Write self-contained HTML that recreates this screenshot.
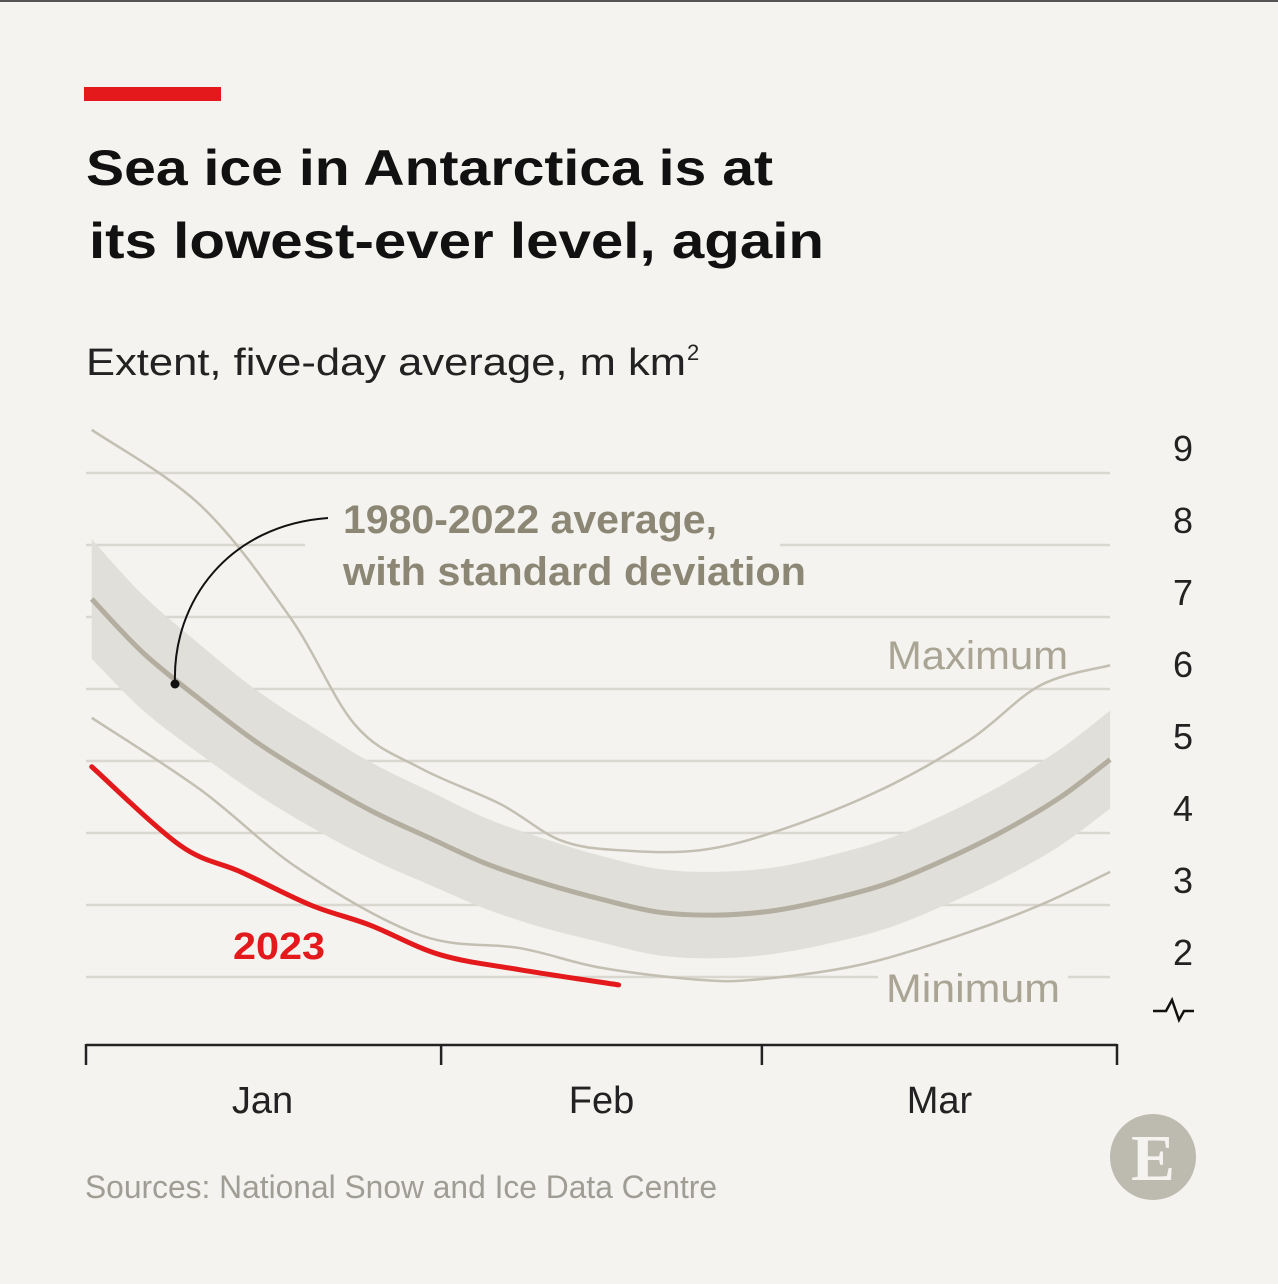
<!DOCTYPE html>
<html><head><meta charset="utf-8"><style>
html,body{margin:0;padding:0;background:#f4f3ef;}
svg{display:block;}
</style></head><body>
<svg width="1278" height="1284" viewBox="0 0 1278 1284" xmlns="http://www.w3.org/2000/svg">
<rect x="0" y="0" width="1278" height="1284" fill="#f4f3ef"/>
<rect x="0" y="0" width="1278" height="2" fill="#555"/>
<rect x="84" y="87" width="137" height="14" fill="#e3191c"/>
<text x="86" y="185" font-family="Liberation Sans, sans-serif" font-weight="bold" font-size="50" fill="#111" textLength="687" lengthAdjust="spacingAndGlyphs">Sea ice in Antarctica is at</text>
<text x="89" y="258" font-family="Liberation Sans, sans-serif" font-weight="bold" font-size="50" fill="#111" textLength="735" lengthAdjust="spacingAndGlyphs">its lowest-ever level, again</text>
<text x="86" y="375" font-family="Liberation Sans, sans-serif" font-size="38" fill="#222" textLength="600" lengthAdjust="spacingAndGlyphs">Extent, five-day average, m km</text>
<text x="687" y="360" font-family="Liberation Sans, sans-serif" font-size="22" fill="#222">2</text>
<g id="plot"></g>
<text x="85" y="1198" font-family="Liberation Sans, sans-serif" font-size="32" fill="#a09d95" textLength="632" lengthAdjust="spacingAndGlyphs">Sources: National Snow and Ice Data Centre</text>
<circle cx="1153" cy="1157" r="43" fill="#bdbbb0"/>
<text x="1153" y="1180" text-anchor="middle" font-family="Liberation Serif, serif" font-weight="bold" font-size="66" fill="#f4f3ef">E</text>
</svg>
<script>
const yTicks=[2,3,4,5,6,7,8,9];
const monthLabels=["Jan","Feb","Mar"];
const monthStarts=[0,31,59,90];
const avgDays=[0.5,5,10,15,20,25,30,35,40,45,50,55,60,65,70,75,80,85,89.4];
const avgVals=[7.25,6.5,5.85,5.25,4.75,4.3,3.93,3.57,3.3,3.08,2.9,2.86,2.92,3.08,3.3,3.63,4.02,4.49,5.02];
const sdVals=[0.83,0.8,0.76,0.72,0.7,0.67,0.65,0.63,0.62,0.6,0.6,0.6,0.6,0.61,0.62,0.63,0.65,0.67,0.68];
const maxDays=[0.5,10,17.8,23.5,29.2,36.2,41.4,46.6,53.6,60.6,69.4,77.2,83.3,89.4];
const maxVals=[9.6,8.55,7.0,5.5,4.9,4.4,3.9,3.76,3.76,4.04,4.6,5.3,6.05,6.33];
const minDays=[0.5,10,18.7,29.2,37.9,44.9,53.6,58.9,67.6,76.3,83.3,89.4];
const minVals=[5.6,4.6,3.49,2.58,2.4,2.13,1.96,1.97,2.17,2.58,3.0,3.46];
const y23Days=[0.5,8.2,13.5,19.6,24.8,30.9,37.9,46.5];
const y23Vals=[4.92,3.83,3.46,3.0,2.72,2.31,2.1,1.89];

const NS="http://www.w3.org/2000/svg";
const g=document.getElementById('plot');
const X=d=>86+d*(1031/90);
const Y=v=>977-(v-2)*72;
function mk(tag,attrs){const e=document.createElementNS(NS,tag);for(const k in attrs)e.setAttribute(k,attrs[k]);g.appendChild(e);return e;}
function spline(pts){let s=`M${pts[0][0]},${pts[0][1]}`;for(let i=0;i<pts.length-1;i++){const p0=pts[Math.max(0,i-1)],p1=pts[i],p2=pts[i+1],p3=pts[Math.min(pts.length-1,i+2)];const c1=[p1[0]+(p2[0]-p0[0])/6,p1[1]+(p2[1]-p0[1])/6],c2=[p2[0]-(p3[0]-p1[0])/6,p2[1]-(p3[1]-p1[1])/6];s+=`C${c1[0]},${c1[1]} ${c2[0]},${c2[1]} ${p2[0]},${p2[1]}`;}return s;}
function pts(ds,vs){return ds.map((d,i)=>[X(d),Y(vs[i])]);}

yTicks.forEach(v=>{
  const l=mk('line',{x1:86,x2:1110,y1:Y(v),y2:Y(v),stroke:'#d9d7d0','stroke-width':2.5});
  
  
  const t=mk('text',{x:1193,y:Y(v)-12,'text-anchor':'end','font-family':'Liberation Sans, sans-serif','font-size':36,fill:'#222'});
  t.textContent=v;
  
  
});
const up=pts(avgDays,avgVals.map((v,i)=>v+sdVals[i]));
const lo=pts(avgDays,avgVals.map((v,i)=>v-sdVals[i])).reverse();
const band=mk('path',{d:spline(up)+spline(lo).replace('M','L')+'Z',fill:'#e1dfd9'});


const mx=mk('path',{d:spline(pts(maxDays,maxVals)),fill:'none',stroke:'#c3bfb2','stroke-width':2.5});


const mn=mk('path',{d:spline(pts(minDays,minVals)),fill:'none',stroke:'#c3bfb2','stroke-width':2.5});


const av=mk('path',{d:spline(pts(avgDays,avgVals)),fill:'none',stroke:'#b3ae9f','stroke-width':5});


const r=mk('path',{d:spline(pts(y23Days,y23Vals)),fill:'none',stroke:'#e3191c','stroke-width':5,'stroke-linecap':'round'});


const bg=mk('rect',{x:305,y:490,width:475,height:105,fill:'#f4f3ef'});


const ld=mk('path',{d:'M175,684 C172,600 230,525 328,518',fill:'none',stroke:'#111','stroke-width':2});


const dot=mk('circle',{cx:175,cy:684,r:4.5,fill:'#111'});


[["1980-2022 average,",533,374],["with standard deviation",585,463]].forEach((a,i)=>{
  const t=mk('text',{x:343,y:a[1],'font-family':'Liberation Sans, sans-serif','font-weight':'bold','font-size':40,fill:'#8c8775',textLength:a[2],lengthAdjust:'spacingAndGlyphs'});
  t.textContent=a[0];
  
  
});
const mxl=mk('text',{x:887,y:669,'font-family':'Liberation Sans, sans-serif','font-size':40,fill:'#a9a493',textLength:181,lengthAdjust:'spacingAndGlyphs'});
mxl.textContent='Maximum';


const mnbg=mk('rect',{x:878,y:965,width:190,height:40,fill:'#f4f3ef'});


const mnl=mk('text',{x:886,y:1002,'font-family':'Liberation Sans, sans-serif','font-size':40,fill:'#a9a493',textLength:174,lengthAdjust:'spacingAndGlyphs'});
mnl.textContent='Minimum';


const l23=mk('text',{x:233,y:959,'font-family':'Liberation Sans, sans-serif','font-weight':'bold','font-size':38,fill:'#e3191c',textLength:92,lengthAdjust:'spacingAndGlyphs'});
l23.textContent='2023';


const br=mk('path',{d:'M1153,1011 L1166,1011 L1172,1000 L1179,1020 L1184,1011 L1194,1011',fill:'none',stroke:'#111','stroke-width':2.5});


const ax=mk('line',{x1:86,x2:1117,y1:1045,y2:1045,stroke:'#222','stroke-width':2.5});


monthStarts.forEach((d,i)=>{
  const tk=mk('line',{x1:X(d),x2:X(d),y1:1044,y2:1065,stroke:'#222','stroke-width':2.5});
  
  
});
monthLabels.forEach((m,i)=>{
  const t=mk('text',{x:(X(monthStarts[i])+X(monthStarts[i+1]))/2+(i==0?-1:0),y:1113,'text-anchor':'middle','font-family':'Liberation Sans, sans-serif','font-size':38,fill:'#222'});
  t.textContent=m;
  
  
});
</script>
</body></html>
